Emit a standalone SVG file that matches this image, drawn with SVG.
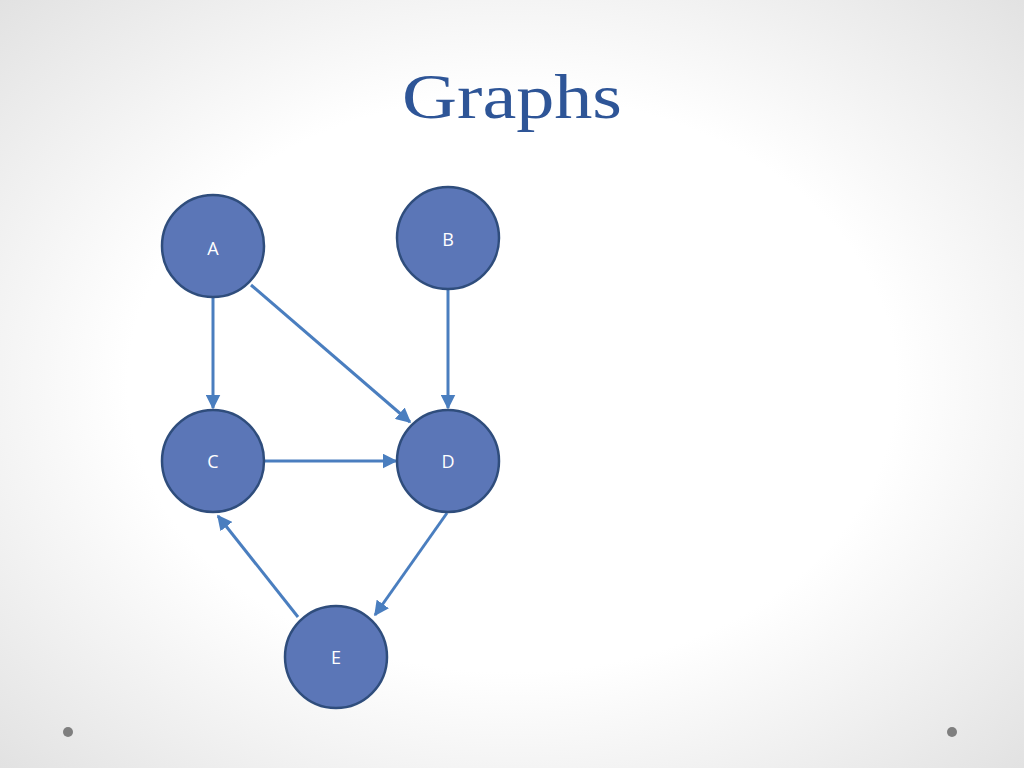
<svg xmlns="http://www.w3.org/2000/svg" width="1024" height="768" viewBox="0 0 1024 768">
<defs>
<radialGradient id="bg" cx="0.5" cy="0.5" r="0.75">
<stop offset="0.5" stop-color="#ffffff"/>
<stop offset="1" stop-color="#dedede"/>
</radialGradient>
<marker id="ah" viewBox="0 0 10 10" refX="9" refY="5" markerWidth="5" markerHeight="5" orient="auto" markerUnits="strokeWidth">
<path d="M0,0 L10,5 L0,10 z" fill="#4a7ebf"/>
</marker>
</defs>
<style>
.n{fill:#5b76b7;stroke:#2f4d7c;stroke-width:2.5}
.t{font-family:"Open Sans","Liberation Sans",sans-serif;font-size:18px;fill:#ffffff;text-anchor:middle}
.e{stroke:#4a7ebf;stroke-width:3;fill:none;marker-end:url(#ah)}
</style>
<rect width="1024" height="768" fill="url(#bg)"/>
<text x="512" y="118" font-family="'Liberation Serif',serif" font-size="64" fill="#2e5597" text-anchor="middle" textLength="220" lengthAdjust="spacingAndGlyphs">Graphs</text>
<g id="connectors">
<line class="e" x1="213" y1="298" x2="213" y2="408"/>
<line class="e" x1="251" y1="285" x2="410" y2="422"/>
<line class="e" x1="448" y1="290" x2="448" y2="408"/>
<line class="e" x1="265" y1="461" x2="396" y2="461"/>
<line class="e" x1="447" y1="513" x2="375" y2="615"/>
<line class="e" x1="298" y1="617" x2="218" y2="516"/>
</g>
<g id="A"><circle class="n" cx="213" cy="246" r="51"/><text class="t" x="213" y="255">A</text></g>
<g id="B"><circle class="n" cx="448" cy="238" r="51"/><text class="t" x="448" y="246">B</text></g>
<g id="C"><circle class="n" cx="213" cy="461" r="51"/><text class="t" x="213" y="468">C</text></g>
<g id="D"><circle class="n" cx="448" cy="461" r="51"/><text class="t" x="448" y="468">D</text></g>
<g id="E"><circle class="n" cx="336" cy="657" r="51"/><text class="t" x="336" y="664">E</text></g>
<circle cx="68" cy="732" r="5" fill="#7f7f7f"/>
<circle cx="952" cy="732" r="5" fill="#7f7f7f"/>
</svg>
